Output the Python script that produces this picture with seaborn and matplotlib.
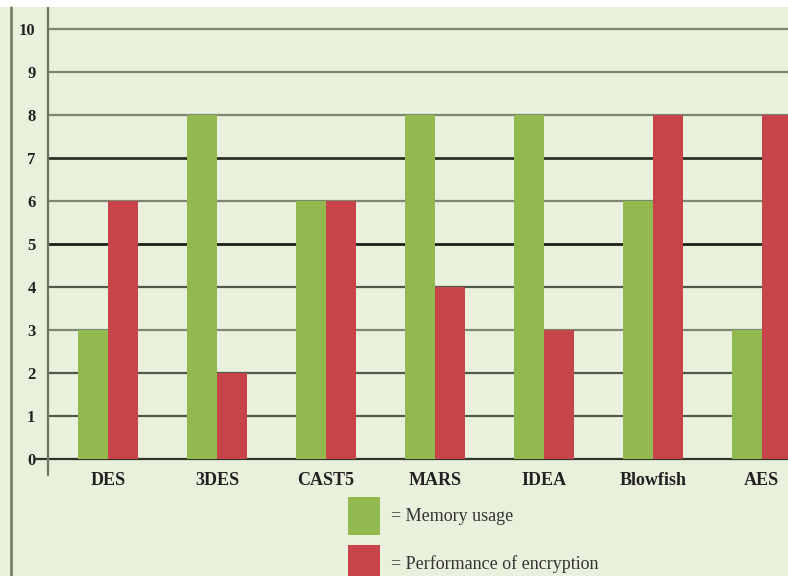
import matplotlib
matplotlib.use("Agg")
import matplotlib.pyplot as plt
from matplotlib.lines import Line2D
from matplotlib.patches import Rectangle
import seaborn as sns
import pandas as pd

algorithms = ["DES", "3DES", "CAST5", "MARS", "IDEA", "Blowfish", "AES"]
memory_usage = [3, 8, 6, 8, 8, 6, 3]
performance = [6, 2, 6, 4, 3, 8, 8]
series_names = ["Memory usage", "Performance of encryption"]
legend_labels = ["= Memory usage", "= Performance of encryption"]
y_ticks = [0, 1, 2, 3, 4, 5, 6, 7, 8, 9, 10]
grid_colors = ["#2e3628", "#4f5947", "#4f5947", "#7c8772", "#4f5947",
               "#1c2218", "#7c8772", "#2a3325", "#7c8772", "#7c8772", "#7c8772"]

colors = ["#92b94f", "#c8444b"]
bg = "#e9f0dc"

df = pd.DataFrame({
    "algorithm": algorithms * 2,
    "series": [series_names[0]] * len(algorithms) + [series_names[1]] * len(algorithms),
    "value": memory_usage + performance,
})

sns.set_theme(style="white")
plt.rcParams["font.family"] = ["Liberation Serif", "DejaVu Serif"]

fig = plt.figure(figsize=(7.88, 5.76), dpi=100, facecolor=bg)
W, H = 788, 576
ax = fig.add_axes([48 / W, 1 - 475 / H, 1 - 48 / W, (475 - 7) / H])
ax.set_facecolor(bg)

sns.barplot(data=df, x="algorithm", y="value", hue="series", order=algorithms,
            hue_order=series_names, palette=colors, saturation=1, width=0.55,
            gap=0, linewidth=0, ax=ax, zorder=3)

ax.set_xlim(-0.55, 6.24)
ax.set_ylim(-0.37, 10.51)

for v, c in zip(y_ticks, grid_colors):
    lw = 2.0 if v in (5, 7) else 1.6
    if v == 0:
        ax.axhline(v, xmin=-13 / 740, xmax=1, color=c, lw=lw, zorder=1, clip_on=False)
    else:
        ax.axhline(v, color=c, lw=lw, zorder=1)

for s in ["top", "right", "bottom"]:
    ax.spines[s].set_visible(False)
ax.spines["left"].set_color("#6b7560")
ax.spines["left"].set_linewidth(1.6)

ax.set_yticks(y_ticks)
ax.set_yticklabels([str(v) for v in y_ticks], fontweight="bold", fontsize=12, color="#222222")
ax.tick_params(axis="y", length=0, pad=9)
ax.tick_params(axis="x", length=0, pad=-2)
for lab in ax.get_xticklabels():
    lab.set_fontweight("bold")
    lab.set_fontsize(13)
    lab.set_color("#222222")
ax.set_xlabel("")
ax.set_ylabel("")

handles, _ = ax.get_legend_handles_labels()
ax.legend(handles, legend_labels, loc="upper left",
          bbox_to_anchor=(348 / W, 1 - 497 / H), bbox_transform=fig.transFigure,
          frameon=False, borderpad=0, borderaxespad=0, fontsize=13,
          handlelength=1.75, handleheight=2.85, handletextpad=0.65, labelspacing=0.55,
          labelcolor="#333333")

# decorations: white top strip and left border line
fig.add_artist(Rectangle((0, 1 - 7 / H), 1, 7 / H, transform=fig.transFigure,
                         facecolor="white", edgecolor="none"))
fig.add_artist(Line2D([11 / W, 11 / W], [0, 1 - 7 / H], transform=fig.transFigure,
                      color="#6b7560", lw=1.8))

fig.savefig("out.png", dpi=100, facecolor=bg)
